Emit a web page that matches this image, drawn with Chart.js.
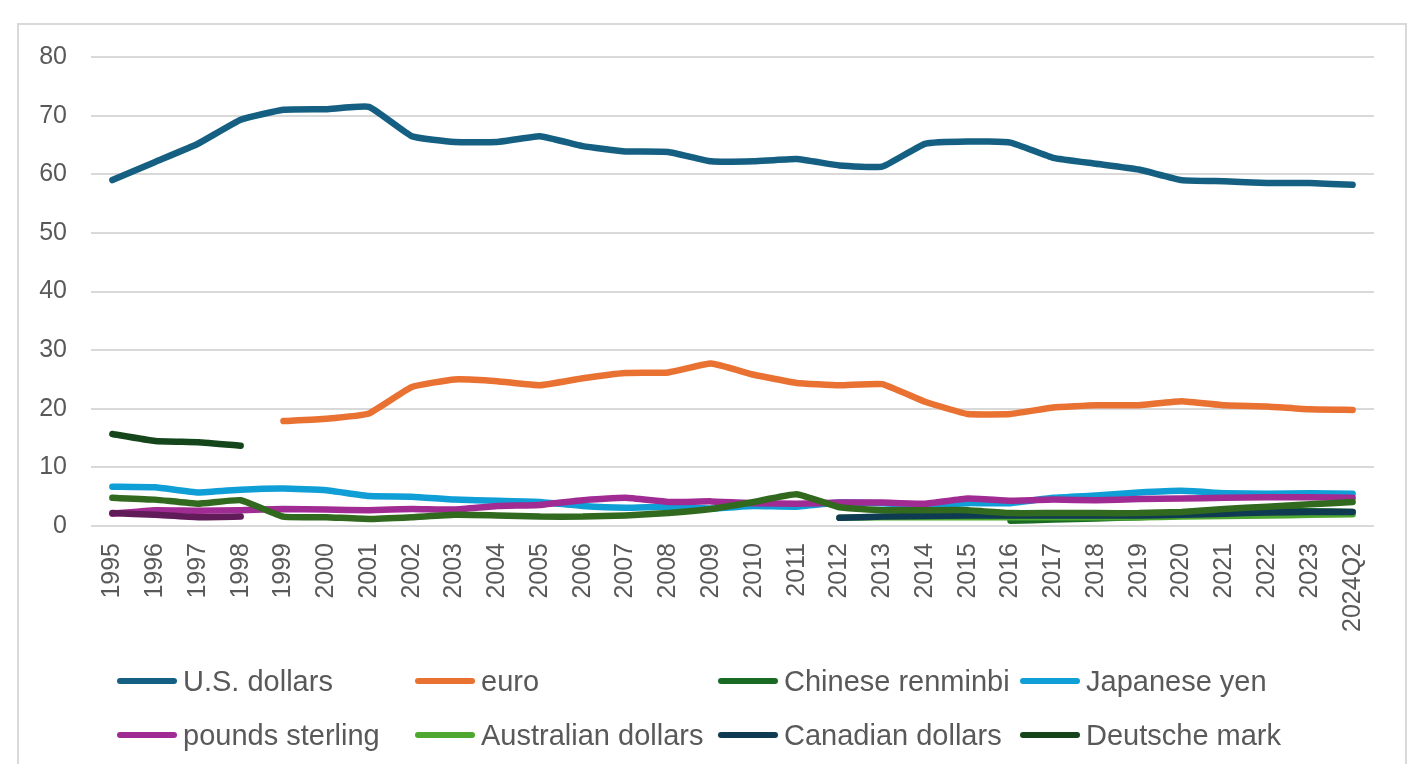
<!DOCTYPE html>
<html lang="en">
<head>
  <meta charset="UTF-8" />
  <title>Currency composition of reserves</title>
  <style>
    body {
      margin: 0;
      width: 1424px;
      height: 764px;
      overflow: hidden;
      background: #fff;
      font-family: "Liberation Sans", Arial, sans-serif;
      position: relative;
    }
    /* light grey chart frame, like the spreadsheet chart box */
    .frame {
      position: absolute;
      left: 17px;
      top: 23px;
      width: 1386px;
      height: 800px;
      border: 2px solid #d9d9d9;
    }
    #chart {
      position: absolute;
      left: 0;
      top: 0;
    }
    .legend {
      position: absolute;
      left: 0;
      top: 0;
    }
    .item {
      position: absolute;
      display: flex;
      align-items: center;
      height: 34px;
      color: #595959;
      font-size: 29px;
      white-space: nowrap;
    }
    .swatch {
      width: 60px;
      height: 6px;
      border-radius: 3px;
      margin-right: 6px;
    }
  </style>
</head>
<body>
  <div class="frame"></div>
  <canvas id="chart" width="1424" height="764"></canvas>
  <div class="legend" id="legend"></div>

  <script src="https://cdn.jsdelivr.net/npm/chart.js"></script>
  <script>
    // categories
    const years = ['1995', '1996', '1997', '1998', '1999', '2000', '2001', '2002', '2003', '2004',
      '2005', '2006', '2007', '2008', '2009', '2010', '2011', '2012', '2013', '2014',
      '2015', '2016', '2017', '2018', '2019', '2020', '2021', '2022', '2023', '2024Q2'];

    // shares of allocated reserves (%)
    const usDollars = [59.0, 62.1, 65.2, 69.3, 71.0, 71.1, 71.5, 66.5, 65.5, 65.5,
      66.5, 64.8, 63.9, 63.8, 62.2, 62.2, 62.6, 61.5, 61.3, 65.2,
      65.6, 65.4, 62.8, 61.8, 60.8, 59.0, 58.8, 58.5, 58.5, 58.2];
    const euro = [null, null, null, null, 17.9, 18.3, 19.2, 23.7, 25.0, 24.7,
      24.0, 25.2, 26.1, 26.2, 27.7, 25.8, 24.4, 24.0, 24.2, 21.2,
      19.1, 19.1, 20.2, 20.6, 20.6, 21.3, 20.6, 20.4, 19.9, 19.8];
    const renminbi = [null, null, null, null, null, null, null, null, null, null,
      null, null, null, null, null, null, null, null, null, null,
      null, 0.9, 1.1, 1.3, 1.5, 1.8, 2.3, 2.5, 2.5, 2.4];
    const yen = [6.7, 6.6, 5.7, 6.2, 6.4, 6.1, 5.1, 5.0, 4.5, 4.3,
      4.1, 3.4, 3.1, 3.3, 3.0, 3.4, 3.3, 4.0, 3.9, 3.6,
      3.9, 3.9, 4.8, 5.2, 5.7, 6.0, 5.6, 5.5, 5.6, 5.5];
    const pounds = [2.1, 2.7, 2.6, 2.7, 2.9, 2.8, 2.7, 2.9, 2.8, 3.4,
      3.6, 4.4, 4.8, 4.1, 4.2, 3.9, 3.8, 4.0, 4.0, 3.8,
      4.7, 4.3, 4.5, 4.4, 4.6, 4.7, 4.8, 4.9, 4.9, 4.8];
    const ausDollars = [null, null, null, null, null, null, null, null, null, null,
      null, null, null, null, null, null, null, 1.4, 1.5, 1.5,
      1.5, 1.5, 1.5, 1.5, 1.5, 1.6, 1.7, 1.8, 1.9, 2.0];
    const canDollars = [null, null, null, null, null, null, null, null, null, null,
      null, null, null, null, null, null, null, 1.4, 1.6, 1.7,
      1.8, 1.8, 1.8, 1.8, 1.8, 1.9, 2.1, 2.3, 2.4, 2.4];
    const deutscheMark = [15.7, 14.5, 14.3, 13.7, null, null, null, null, null, null,
      null, null, null, null, null, null, null, null, null, null,
      null, null, null, null, null, null, null, null, null, null];
    const frenchFrancs = [2.2, 1.9, 1.5, 1.6, null, null, null, null, null, null,
      null, null, null, null, null, null, null, null, null, null,
      null, null, null, null, null, null, null, null, null, null];
    const otherCurrencies = [4.8, 4.5, 3.8, 4.4, 1.6, 1.5, 1.2, 1.5, 1.9, 1.8,
      1.6, 1.6, 1.8, 2.2, 2.9, 4.1, 5.4, 3.2, 2.7, 2.7,
      2.7, 2.2, 2.2, 2.2, 2.2, 2.4, 2.9, 3.3, 3.7, 4.1];

    const yTicks = [0, 10, 20, 30, 40, 50, 60, 70, 80];

    const series = [
      { label: 'U.S. dollars', data: usDollars, color: '#156082', legend: true },
      { label: 'euro', data: euro, color: '#E97132', legend: true },
      { label: 'Chinese renminbi', data: renminbi, color: '#196B24', legend: true },
      { label: 'Japanese yen', data: yen, color: '#0F9ED5', legend: true },
      { label: 'pounds sterling', data: pounds, color: '#A02B93', legend: true },
      { label: 'Australian dollars', data: ausDollars, color: '#4EA72E', legend: true },
      { label: 'Canadian dollars', data: canDollars, color: '#0E3A52', legend: true },
      { label: 'Deutsche mark', data: deutscheMark, color: '#15461B', legend: true },
      { label: 'French francs', data: frenchFrancs, color: '#611B58', legend: false },
      { label: 'other currencies', data: otherCurrencies, color: '#31691F', legend: false }
    ];

    const ctx = document.getElementById('chart').getContext('2d');
    const n = series.length;

    new Chart(ctx, {
      type: 'line',
      data: {
        labels: years,
        datasets: series.map((s, i) => ({
          label: s.label,
          data: s.data,
          borderColor: s.color,
          backgroundColor: s.color,
          borderWidth: 6.5,
          borderCapStyle: 'round',
          borderJoinStyle: 'round',
          pointRadius: 0,
          tension: 0.12,
          spanGaps: false,
          order: n - i // later series drawn on top, like the spreadsheet
        }))
      },
      options: {
        responsive: false,
        animation: false,
        layout: { padding: { top: 57, right: 50, left: 0, bottom: 0 } },
        plugins: {
          legend: { display: false },
          tooltip: { enabled: false }
        },
        scales: {
          x: {
            offset: true,
            grid: { display: false, drawTicks: false },
            border: { display: false },
            ticks: {
              autoSkip: false,
              minRotation: 90,
              maxRotation: 90,
              padding: 17,
              color: '#595959',
              font: { family: '"Liberation Sans", Arial, sans-serif', size: 25 }
            },
            afterFit: (scale) => { scale.height = 238; }
          },
          y: {
            min: yTicks[0],
            max: yTicks[yTicks.length - 1],
            afterBuildTicks: (scale) => { scale.ticks = yTicks.map(v => ({ value: v })); },
            grid: { color: '#d9d9d9', lineWidth: 2, drawTicks: false },
            border: { display: false },
            ticks: {
              padding: 24,
              color: '#595959',
              font: { family: '"Liberation Sans", Arial, sans-serif', size: 25 }
            },
            afterFit: (scale) => { scale.width = 91; }
          }
        }
      }
    });

    // legend in four fixed columns, two rows
    const colX = [117, 415, 718, 1020];
    const rowY = [664, 718];
    const legendEl = document.getElementById('legend');
    series.filter(s => s.legend).forEach((s, i) => {
      const item = document.createElement('div');
      item.className = 'item';
      item.style.left = colX[i % 4] + 'px';
      item.style.top = rowY[Math.floor(i / 4)] + 'px';
      const sw = document.createElement('span');
      sw.className = 'swatch';
      sw.style.background = s.color;
      const txt = document.createElement('span');
      txt.textContent = s.label;
      item.appendChild(sw);
      item.appendChild(txt);
      legendEl.appendChild(item);
    });
  </script>
</body>
</html>
